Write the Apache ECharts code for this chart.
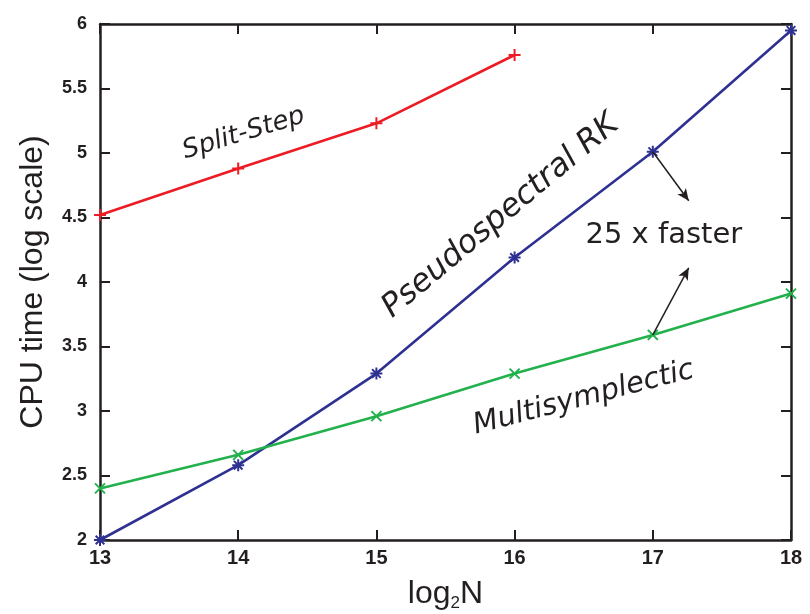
<!DOCTYPE html>
<html>
<head>
<meta charset="utf-8">
<script src="https://cdn.jsdelivr.net/npm/echarts@6/dist/echarts.min.js"></script>
<style>
  html, body { margin: 0; padding: 0; background: #fff; }
  #chart { width: 810px; height: 614px; }
</style>
</head>
<body>
<div id="chart"></div>
<script>
// problem size exponents (log2 N)
const logN = [13, 14, 15, 16, 17, 18];
// CPU time, log scale
const splitStep = [4.52, 4.88, 5.23, 5.76];
const pseudospectralRK = [2.00, 2.58, 3.29, 4.19, 5.01, 5.95];
const multisymplectic = [2.40, 2.66, 2.96, 3.29, 3.59, 3.91];
const yTicks = [2, 2.5, 3, 3.5, 4, 4.5, 5, 5.5, 6];

const INK = '#231f20';
const RED = '#ed1c24';
const BLUE = '#2e3192';
const GREEN = '#22b14c';

const PLUS = 'path://M0,-1L0,1M-1,0L1,0';
const CROSS = 'path://M-1,-1L1,1M-1,1L1,-1';
const STAR = 'path://M0,-1L0,1M-1,0L1,0M-0.72,-0.72L0.72,0.72M-0.72,0.72L0.72,-0.72';

function pairs(ys) { return ys.map((v, i) => [logN[i], v]); }

function lineSeries(name, ys, color, symbol, size) {
  return {
    name, type: 'line', data: pairs(ys),
    symbol, symbolSize: size, showSymbol: true,
    lineStyle: { color, width: 2.6 },
    itemStyle: { color: 'none', borderColor: color, borderWidth: 2 },
    emphasis: { disabled: true },
    animation: false, z: 3
  };
}

const chart = echarts.init(document.getElementById('chart'), null, { renderer: 'canvas' });

const tickFont = { fontFamily: 'Liberation Sans', fontWeight: 'bold', color: INK };
const axisLine = { show: true, lineStyle: { color: INK, width: 2.5 } };
const axisTick = { show: true, inside: true, length: 10, lineStyle: { color: INK, width: 2 } };

chart.setOption({
  animation: false,
  grid: { left: 100, right: 19, top: 24, bottom: 74, containLabel: false, outerBoundsMode: 'none' },
  xAxis: [{
    type: 'value', min: 13, max: 18, interval: 1,
    axisLine, axisTick, splitLine: { show: false },
    axisLabel: Object.assign({ margin: 8, fontSize: 20 }, tickFont),
    name: '{n|log}{s|2}{n|N}', nameLocation: 'middle', nameGap: 37,
    nameTextStyle: {
      rich: {
        n: { fontFamily: 'Liberation Sans', fontSize: 32, color: INK },
        s: { fontFamily: 'Liberation Sans', fontSize: 17, color: INK, verticalAlign: 'bottom', padding: [18, 0, 0, 0] }
      }
    }
  }, {
    type: 'value', position: 'top', min: 13, max: 18, interval: 1,
    axisLine, axisTick, axisLabel: { show: false }, splitLine: { show: false }
  }],
  yAxis: [{
    type: 'value', min: 2, max: 6, interval: 0.5,
    axisLine, axisTick, splitLine: { show: false },
    axisLabel: Object.assign({ margin: 13, fontSize: 18, formatter: v => String(v) }, tickFont),
    name: 'CPU time (log scale)', nameLocation: 'middle', nameGap: 51,
    nameTextStyle: { fontFamily: 'Liberation Sans', fontSize: 32, color: INK }
  }, {
    type: 'value', position: 'right', min: 2, max: 6, interval: 0.5,
    axisLine, axisTick, axisLabel: { show: false }, splitLine: { show: false }
  }],
  series: [
    lineSeries('Split-Step', splitStep, RED, PLUS, 12),
    lineSeries('Pseudospectral RK', pseudospectralRK, BLUE, STAR, 12),
    lineSeries('Multisymplectic', multisymplectic, GREEN, CROSS, 10),
    {
      type: 'line', data: [], silent: true,
      markLine: {
        silent: true, symbol: ['none', 'arrow'], symbolSize: [8, 12],
        label: { show: false },
        lineStyle: { color: INK, width: 1.5, type: 'solid' },
        data: [
          [{ coord: [17.0, 5.01] }, { coord: [17.26, 4.63] }],
          [{ coord: [17.0, 3.59] }, { coord: [17.26, 4.11] }]
        ]
      }
    }
  ]
});

// curve labels placed in data space
const labels = [
  { text: 'Split-Step', at: [14.04, 5.15], rot: 17, italic: true, size: 26 },
  { text: 'Pseudospectral RK', at: [15.9, 4.51], rot: 40, italic: true, size: 32 },
  { text: 'Multisymplectic', at: [16.5, 3.10], rot: 14.5, italic: true, size: 29 },
  { text: '25 x faster', at: [17.08, 4.36], rot: 0, italic: false, size: 29 }
];
chart.setOption({
  graphic: labels.map(l => {
    const p = chart.convertToPixel({ xAxisIndex: 0, yAxisIndex: 0 }, l.at);
    return {
      type: 'text', x: p[0], y: p[1], rotation: l.rot * Math.PI / 180,
      style: {
        text: l.text, fontFamily: 'DejaVu Sans', fontSize: l.size,
        fontStyle: l.italic ? 'italic' : 'normal',
        fill: INK, align: 'center', verticalAlign: 'middle'
      },
      z: 10
    };
  })
});
</script>
</body>
</html>
